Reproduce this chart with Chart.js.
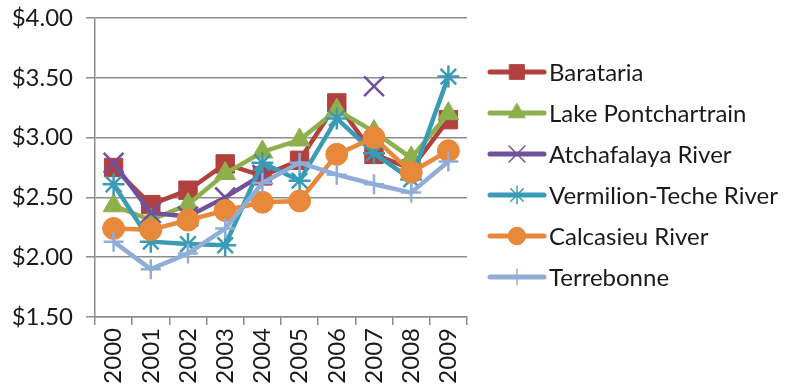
<!DOCTYPE html>
<html>
<head>
<meta charset="utf-8">
<script src="https://cdn.jsdelivr.net/npm/chart.js@4/dist/chart.umd.min.js"></script>
<style>
  html, body { margin: 0; padding: 0; background: #fff; }
  #wrap { width: 790px; height: 391px; }
</style>
</head>
<body>
<div id="wrap"><canvas id="priceChart"></canvas></div>
<script>
// Data (null = no value that year)
var years = ['2000', '2001', '2002', '2003', '2004', '2005', '2006', '2007', '2008', '2009'];
var seriesNames = ['Barataria', 'Lake Pontchartrain', 'Atchafalaya River', 'Vermilion-Teche River', 'Calcasieu River', 'Terrebonne'];

var barataria     = [2.75, 2.44, 2.56, 2.78, 2.68, 2.81, 3.29, 2.86, 2.74, 3.15];
var pontchartrain = [2.43, 2.31, 2.44, 2.70, 2.88, 2.98, 3.23, 3.05, 2.83, 3.20];
var atchafalaya   = [2.79, 2.37, 2.34, 2.50, 2.69, null, null, 3.43, null, null];
var vermilion     = [2.61, 2.13, 2.11, 2.10, 2.79, 2.64, 3.16, 2.87, 2.65, 3.51];
var calcasieu     = [2.24, 2.23, 2.31, 2.39, 2.46, 2.47, 2.86, 3.00, 2.71, 2.89];
var terrebonne    = [2.13, 1.90, 2.03, 2.24, 2.62, 2.79, 2.69, 2.61, 2.54, 2.80];

var yTicks = [1.5, 2.0, 2.5, 3.0, 3.5, 4.0];

var colors  = ['#B0413E', '#8DB04D', '#71519A', '#3A9BB6', '#E8883A', '#90ADD8'];
var markers = ['rect', 'triangle', 'crossRot', 'star', 'circle', 'cross'];
var markerSize = [13, 12, 14, 11, 11, 10];
var values = [barataria, pontchartrain, atchafalaya, vermilion, calcasieu, terrebonne];

var FONT = 'Lato, "Liberation Sans", sans-serif';

var datasets = seriesNames.map(function (name, i) {
  var cross = markers[i] === 'crossRot' || markers[i] === 'star' || markers[i] === 'cross';
  return {
    label: name,
    data: values[i],
    borderColor: colors[i],
    backgroundColor: colors[i],
    borderWidth: 4.5,
    pointStyle: markers[i],
    pointRadius: markerSize[i],
    pointBorderWidth: cross ? 2.5 : 1,
    pointBorderColor: colors[i],
    pointBackgroundColor: colors[i],
    tension: 0,
    spanGaps: false,
    order: 5 - i  // later series drawn on top, like the original
  };
});

// Legend drawn to the right of the plot: line with marker, then name
var sideLegend = {
  id: 'sideLegend',
  afterDraw: function (chart) {
    var ctx = chart.ctx;
    var x0 = chart.chartArea.right + 23;
    ctx.save();
    chart.data.datasets.forEach(function (ds, i) {
      var y = 72 + i * 41;
      ctx.strokeStyle = ds.borderColor;
      ctx.lineWidth = 5;
      ctx.lineCap = 'round';
      ctx.beginPath();
      ctx.moveTo(x0, y);
      ctx.lineTo(x0 + 54, y);
      ctx.stroke();
      ctx.fillStyle = ds.backgroundColor;
      ctx.strokeStyle = ds.borderColor;
      ctx.lineWidth = ds.pointBorderWidth === 1 ? 1 : 1.5;
      Chart.helpers.drawPoint(ctx, { pointStyle: ds.pointStyle, radius: ds.pointRadius * 0.8, rotation: 0, borderWidth: ctx.lineWidth }, x0 + 27, y);
      ctx.fillStyle = '#1a1a1a';
      ctx.font = '24px ' + FONT;
      ctx.textBaseline = 'middle';
      ctx.textAlign = 'left';
      ctx.fillText(ds.label, x0 + 59, y + 1);
    });
    ctx.restore();
  }
};

new Chart(document.getElementById('priceChart'), {
  type: 'line',
  data: { labels: years, datasets: datasets },
  options: {
    responsive: true,
    maintainAspectRatio: false,
    animation: false,
    layout: { padding: { top: 18, right: 323, left: 0, bottom: 0 } },
    plugins: {
      legend: { display: false },
      tooltip: { enabled: false }
    },
    scales: {
      x: {
        offset: true,
        afterFit: function (scale) {
          scale.height = 74;
          scale.paddingLeft = 0;
          scale.paddingRight = 0;
        },
        grid: {
          offset: true,
          drawOnChartArea: false,
          color: '#8c8c8c',
          lineWidth: 1.5,
          tickLength: 8
        },
        border: { color: '#8c8c8c', width: 1.5 },
        ticks: {
          color: '#1a1a1a',
          font: { family: FONT, size: 24 },
          minRotation: 90,
          maxRotation: 90,
          autoSkip: false,
          padding: 3
        }
      },
      y: {
        min: 1.5,
        max: 4.0,
        afterFit: function (scale) {
          scale.width = 95;
          scale.paddingTop = 0;
          scale.paddingBottom = 0;
        },
        afterBuildTicks: function (axis) {
          axis.ticks = yTicks.map(function (v) { return { value: v }; });
        },
        grid: {
          color: '#8c8c8c',
          lineWidth: 1.5,
          tickLength: 9
        },
        border: { color: '#8c8c8c', width: 1.5 },
        ticks: {
          color: '#1a1a1a',
          font: { family: FONT, size: 24 },
          padding: 13,
          callback: function (v) { return '$' + Number(v).toFixed(2); }
        }
      }
    }
  },
  plugins: [sideLegend]
});
</script>
</body>
</html>
